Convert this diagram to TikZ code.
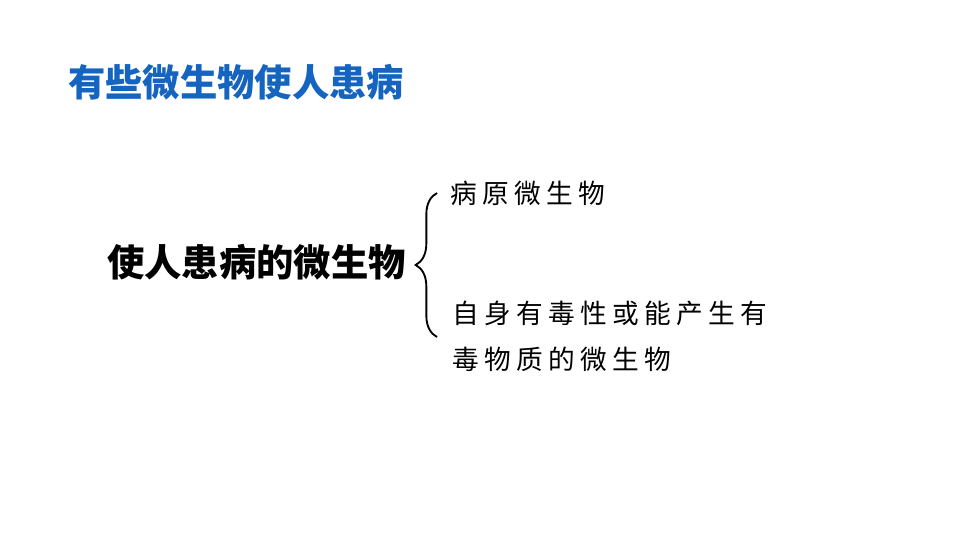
\documentclass[tikz,border=0pt]{standalone}
\usepackage{fontspec}
\usepackage{tikz}
\usetikzlibrary{decorations.pathreplacing}
\setmainfont{Noto Sans CJK SC}
\newfontfamily\cjkspaced[LetterSpace=20]{Noto Sans CJK SC}
\definecolor{titleblue}{RGB}{21,101,192}
\tikzset{
	titletext/.style={anchor=west, inner sep=0pt, text=titleblue, font=\fontsize{28}{34}\selectfont\bfseries},
	maintext/.style={anchor=west, inner sep=0pt, font=\fontsize{28}{34}\selectfont\bfseries},
	itemtext/.style={anchor=west, inner sep=0pt, align=left, font=\fontsize{20}{34.5}\selectfont\cjkspaced},
	bracket/.style={decorate, decoration={brace, amplitude=16pt, aspect=0.5}, line width=1.4pt}
}

\begin{document}
\begin{tikzpicture}[x=0.75pt, y=-0.75pt]
				\useasboundingbox (0, 0) rectangle (960, 540);
				% Title:
				\node[titletext](T1) at (68, 82){有些微生物使人患病};
				% Texts and bracket:
				\node[maintext](M1) at (107, 262){使人患病的微生物};
				\node[itemtext](I1) at (450, 193){病原微生物};
				\node[itemtext](I2) at (452, 336){自身有毒性或能产生有\\毒物质的微生物};
				\coordinate (B1) at (437, 337);
				\coordinate (B2) at (437, 193);
				\draw[bracket] (B1) -- (B2);
			\end{tikzpicture}
\end{document}
